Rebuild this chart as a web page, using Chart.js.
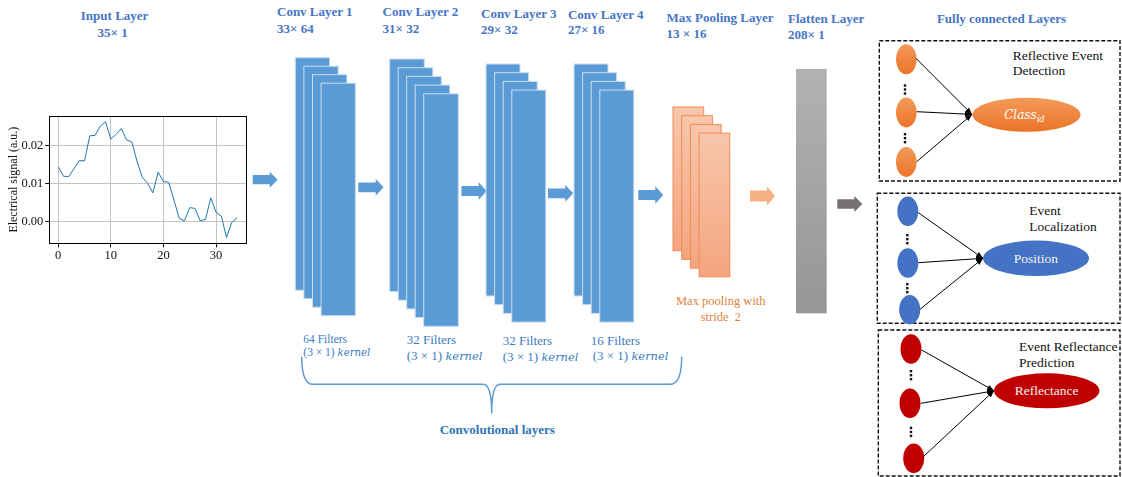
<!DOCTYPE html>
<html>
<head>
<meta charset="utf-8">
<script src="https://cdn.jsdelivr.net/npm/chart.js@4/dist/chart.umd.min.js"></script>
<style>
  html, body { margin: 0; padding: 0; background: #fff; }
  #stage { position: relative; width: 1122px; height: 477px; overflow: hidden; font-family: "Liberation Serif", "Times New Roman", serif; }
  #diagram { position: absolute; left: 0; top: 0; }
  #diagram text { white-space: pre; }
  #chartBox { position: absolute; left: 0; top: 100px; width: 250px; height: 165px; }
</style>
</head>
<body>
<div id="stage">
  <svg id="diagram" width="1122" height="477" xmlns="http://www.w3.org/2000/svg"></svg>
  <div id="chartBox"><canvas id="chart" width="250" height="165"></canvas></div>
</div>
<script>
// ---- data of the input-signal chart ----
const sampleIndex = [0,1,2,3,4,5,6,7,8,9,10,11,12,13,14,15,16,17,18,19,20,21,22,23,24,25,26,27,28,29,30,31,32,33,34];
const signalValues = [0.0145,0.0120,0.0119,0.0140,0.0161,0.0161,0.0227,0.0228,0.0253,0.0264,
                      0.0218,0.0231,0.0246,0.0216,0.0211,0.0158,0.0117,0.0101,0.0076,0.0131,
                      0.0106,0.0104,0.0057,0.0009,0.0002,0.0037,0.0035,0.0002,0.0006,0.0063,
                      0.0025,0.0015,-0.0042,-0.0002,0.0010];
const xTickValues = [0, 10, 20, 30];
const yTickValues = [0.00, 0.01, 0.02];
const yAxisTitle = "Electrical signal (a.u.)";

// ---- diagram labels ----
const layerTitles = ["Input Layer","Conv Layer 1","Conv Layer 2","Conv Layer 3","Conv Layer 4","Max Pooling Layer","Flatten Layer","Fully connected Layers"];
const layerShapes = ["35× 1","33× 64","31× 32","29× 32","27× 16","13 × 16","208× 1",""];
const filterCounts = ["64 Filters","32 Filters","32 Filters","16 Filters"];
const stackCounts = [4,5,4,4];

// ---------------- SVG diagram ----------------
const NS = "http://www.w3.org/2000/svg";
const svg = document.getElementById("diagram");
function el(tag, attrs, parent) {
  const e = document.createElementNS(NS, tag);
  for (const k in attrs) e.setAttribute(k, attrs[k]);
  (parent || svg).appendChild(e);
  return e;
}
function text(str, x, y, attrs) {
  const t = el("text", Object.assign({x: x, y: y}, attrs || {}));
  t.textContent = str;
  return t;
}
const defs = el("defs", {});
function grad(id, c1, c2) {
  const g = el("linearGradient", {id: id, x1: 0, y1: 0, x2: 0, y2: 1}, defs);
  el("stop", {offset: "0", "stop-color": c1}, g);
  el("stop", {offset: "1", "stop-color": c2}, g);
}
grad("gPool", "#f7c6ab", "#f4a57f");
grad("gFlat", "#b2b2b2", "#969696");
grad("gOrange", "#f39a5a", "#ec7428");
const mk = el("marker", {id: "ah", markerWidth: 8, markerHeight: 8, refX: 7, refY: 4, orient: "auto", markerUnits: "userSpaceOnUse"}, defs);
el("path", {d: "M0,1.2 L7,4 L0,6.8 Z", fill: "#000"}, mk);

// block arrows
function blockArrow(x, y, w, h, color) {
  const cy = y + h / 2, sh = h * 0.29, hx = x + w - 8;
  el("path", {d: `M${x},${cy - sh} L${hx},${cy - sh} L${hx},${y} L${x + w},${cy} L${hx},${y + h} L${hx},${cy + sh} L${x},${cy + sh} Z`, fill: color});
}
blockArrow(252.7, 171.7, 25, 16, "#5b9bd5");
blockArrow(358.3, 179, 25.4, 16.7, "#5b9bd5");
blockArrow(461.5, 182.3, 25.2, 17.4, "#5b9bd5");
blockArrow(548, 185, 25.3, 16.7, "#5b9bd5");
blockArrow(638.3, 186.3, 25, 17.4, "#5b9bd5");
blockArrow(750, 186.5, 25, 19, "#f5b183");
blockArrow(837.3, 196, 25, 16, "#767171");

// stacks of feature maps
const stacks = [
  {x: 295.3, y: 57.7, w: 34.3, h: 232.5, dx: 8.6, dy: 8.5},
  {x: 389.7, y: 59, w: 34.6, h: 232.5, dx: 8.5, dy: 8.7},
  {x: 486, y: 64, w: 34, h: 232, dx: 8.6, dy: 8.7},
  {x: 574, y: 64, w: 34, h: 232, dx: 8.6, dy: 8.7}
];
stacks.forEach((s, k) => {
  for (let i = 0; i < stackCounts[k]; i++) {
    el("rect", {x: s.x + i * s.dx, y: s.y + i * s.dy, width: s.w, height: s.h, fill: "#5b9bd5", stroke: "#c9dcf0", "stroke-width": 1});
  }
});
for (let i = 0; i < 4; i++) {
  el("rect", {x: 673 + i * 8.7, y: 107 + i * 8.7, width: 30.7, height: 143.7, fill: "url(#gPool)", stroke: "#f08b55", "stroke-width": 1});
}
el("rect", {x: 796, y: 69, width: 30.7, height: 244.3, fill: "url(#gFlat)"});

// titles
const titlePos = [[80.8,19.5,97.6,37],[277,16.3,277,33.2],[382.6,16.3,382.6,33.2],[481,17.5,481,34.3],[567.9,18.9,567.9,34.3],[666.6,21.7,666.6,37.9],[788,22.5,788,39.3],[936.9,22.5,0,0]];
layerTitles.forEach((t, i) => {
  const p = titlePos[i];
  text(t, p[0], p[1], {"font-size": 13, "font-weight": "bold", fill: "#4675c6"});
  if (layerShapes[i]) text(layerShapes[i], p[2], p[3], {"font-size": 13, "font-weight": "bold", fill: "#4675c6"});
});

// filter labels
const filtPos = [[303.3,343,303.3,356.3,11.5],[406.7,343.5,406.7,359.5,13],[502.7,345.2,502.7,361.2,13],[590.7,344.5,592.7,359.5,13]];
filterCounts.forEach((f, i) => {
  const p = filtPos[i];
  text(f, p[0], p[1], {"font-size": p[4], fill: "#3a7cc2"});
  const t = el("text", {x: p[2], y: p[3], "font-size": p[4], fill: "#3a7cc2"});
  const a = el("tspan", {}, t); a.textContent = "(3 × 1) ";
  const b = el("tspan", {"font-style": "italic", "font-family": "DejaVu Serif", "font-size": p[4] * 0.88}, t); b.textContent = "kernel";
});
// brace
el("path", {d: "M301.7,356.7 Q301.7,384.3 313,384.3 L483,384.3 Q491.7,384.3 491.7,413.3 Q491.7,384.3 500,384.3 L670,384.3 Q681.7,384.3 681.7,356.7", fill: "none", stroke: "#5b9bd5", "stroke-width": 1.5});
text("Convolutional layers", 497.3, 433.5, {"font-size": 13, "font-weight": "bold", fill: "#2e75b6", "text-anchor": "middle"});

// max pooling text
text("Max pooling with", 720.8, 304.5, {"font-size": 12.5, fill: "#e0823d", "text-anchor": "middle"});
text("stride  2", 720.8, 320.5, {"font-size": 12.5, fill: "#e0823d", "text-anchor": "middle"});

// fully connected boxes
const boxes = [
  {rect: [879.3, 40.7, 240.7, 140.3], fill: "url(#gOrange)",
   nodes: [[906.3,59.3],[906.3,112.5],[906.3,162]], rx: 10.3, ry: 15,
   starts: [[916,58.3],[916.7,111.7],[916.7,161.7]], tip: [972,114.4],
   dots: [[905,84.3],[905,133]],
   big: [1026.5,114.7,54,17], label: "Class", sub: "id",
   txt: [["Reflective Event",1012.7,59.5],["Detection",1012.7,74.5]]},
  {rect: [877.3, 193.3, 242.7, 130], fill: "#4472c4",
   nodes: [[907.8,211.3],[907.8,263],[909.7,309.7]], rx: 10.5, ry: 14.7,
   starts: [[918.3,212.7],[918.3,262.7],[920,309.3]], tip: [983,258.3],
   dots: [[907.3,234],[907.3,283]],
   big: [1036,258.3,53,17.7], label: "Position",
   txt: [["Event",1029.3,215],["Localization",1029.3,231]]},
  {rect: [878.3, 330, 241.7, 146], fill: "#c00000",
   nodes: [[911,349],[910,403.3],[913.7,458.3]], rx: 10.5, ry: 14.8,
   starts: [[921.7,350],[921,403.3],[923.3,456.7]], tip: [994,390.8],
   dots: [[911,370],[911,426.7]],
   big: [1046.7,390.8,52.7,17.5], label: "Reflectance",
   txt: [["Event Reflectance",1019,351],["Prediction",1019,366.8]]}
];
boxes.forEach(b => {
  el("rect", {x: b.rect[0], y: b.rect[1], width: b.rect[2], height: b.rect[3], fill: "none", stroke: "#111", "stroke-width": 1.4, "stroke-dasharray": "4,2"});
  b.nodes.forEach(n => el("ellipse", {cx: n[0], cy: n[1], rx: b.rx, ry: b.ry, fill: b.fill}));
  b.dots.forEach(d => { for (let k = 0; k < 3; k++) el("rect", {x: d[0] - 1.2, y: d[1] + k * 4, width: 2.4, height: 2.4, fill: "#111"}); });
  b.starts.forEach(s => el("line", {x1: s[0], y1: s[1], x2: b.tip[0], y2: b.tip[1], stroke: "#000", "stroke-width": 1, "marker-end": "url(#ah)"}));
  el("ellipse", {cx: b.big[0], cy: b.big[1], rx: b.big[2], ry: b.big[3], fill: b.fill});
  if (b.sub) {
    const t = el("text", {x: b.big[0] - 2, y: b.big[1] + 4.5, "font-size": 13, fill: "#fff", "font-style": "italic", "font-family": "DejaVu Serif", "text-anchor": "middle"});
    const a = el("tspan", {"font-size": 12}, t); a.textContent = b.label;
    const s = el("tspan", {"font-size": 8.5, dy: 2.5}, t); s.textContent = b.sub;
  } else {
    text(b.label, b.big[0], b.big[1] + 4.5, {"font-size": 13.5, fill: "#f2f2f2", "text-anchor": "middle"});
  }
  b.txt.forEach(t => text(t[0], t[1], t[2], {"font-size": 13.5, fill: "#111"}));
});

// ---------------- Chart.js line chart ----------------
const boxPlugin = {
  id: "frame",
  afterDraw(chart) {
    const {ctx, chartArea: a} = chart;
    ctx.save();
    ctx.strokeStyle = "#000";
    ctx.lineWidth = 1;
    ctx.strokeRect(Math.round(a.left) + 0.5, Math.round(a.top) + 0.5, Math.round(a.right - a.left), Math.round(a.bottom - a.top));
    ctx.restore();
  }
};
new Chart(document.getElementById("chart"), {
  type: "line",
  data: {
    datasets: [{
      data: sampleIndex.map((x, i) => ({x: x, y: signalValues[i]})),
      borderColor: "#1f77b4",
      borderWidth: 1,
      pointRadius: 0,
      tension: 0,
      fill: false
    }]
  },
  options: {
    responsive: false,
    devicePixelRatio: 1,
    animation: false,
    layout: {padding: {top: 16, right: 4, left: 0, bottom: 0}},
    plugins: {legend: {display: false}, tooltip: {enabled: false}},
    scales: {
      x: {
        type: "linear", min: -1.7, max: 35.7,
        afterBuildTicks: s => { s.ticks = xTickValues.map(v => ({value: v})); },
        afterFit: s => { s.height = 21.7; },
        grid: {color: "#c4c4c4", lineWidth: 1, tickLength: 4, tickColor: "#000"},
        border: {color: "#000", width: 1},
        ticks: {font: {family: "Liberation Serif", size: 12.5}, color: "#111", padding: 1, maxRotation: 0}
      },
      y: {
        type: "linear", min: -0.00573, max: 0.02793,
        afterBuildTicks: s => { s.ticks = yTickValues.map(v => ({value: v})); },
        afterFit: s => { s.width = 49.3; },
        grid: {color: "#c4c4c4", lineWidth: 1, tickLength: 4, tickColor: "#000"},
        border: {color: "#000", width: 1},
        ticks: {font: {family: "Liberation Serif", size: 12.5}, color: "#111", padding: 2, callback: v => v.toFixed(2)},
        title: {display: true, text: yAxisTitle, font: {family: "Liberation Serif", size: 12}, color: "#111", padding: {top: 7, bottom: 0}}
      }
    }
  },
  plugins: [boxPlugin]
});
</script>
</body>
</html>
